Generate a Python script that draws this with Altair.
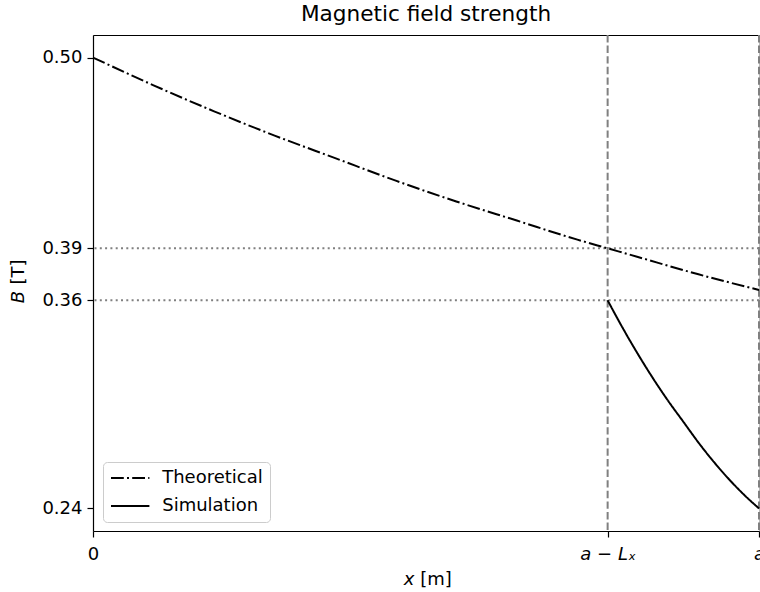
import altair as alt
import pandas as pd

# ---- data ----
theo_x = [0.00, 0.02, 0.04, 0.06, 0.08, 0.10, 0.12, 0.14, 0.16, 0.17, 0.18, 0.20, 0.22]
theo_B = [0.500, 0.484, 0.469, 0.455, 0.442, 0.429, 0.417, 0.406, 0.395, 0.390, 0.385, 0.375, 0.366]

sim_x = [0.170, 0.175, 0.180, 0.185, 0.190, 0.195, 0.200, 0.205, 0.210, 0.215, 0.220]
sim_B = [0.360, 0.344, 0.329, 0.315, 0.302, 0.290, 0.278, 0.267, 0.257, 0.248, 0.240]

hlines = [0.39, 0.36]
vlines = [0.17, 0.22]
y_ticks = [0.24, 0.36, 0.39, 0.50]
x_ticks = [0.0, 0.17, 0.22]
x_tick_labels = ["0", "a − Lₓ", "a"]
series_names = ["Theoretical", "Simulation"]
x_domain = [0.0, 0.22]
y_domain = [0.227, 0.513]

FONT = "DejaVu Sans"
GRAY = "#808080"

lines_df = pd.DataFrame({
    "x": theo_x + sim_x,
    "B": theo_B + sim_B,
    "series": [series_names[0]] * len(theo_x) + [series_names[1]] * len(sim_x),
})
h_df = pd.DataFrame({"y": hlines})
v_df = pd.DataFrame({"x": vlines})

# label expression built from the tick lists
expr = "''"
for v, lab in reversed(list(zip(x_ticks, x_tick_labels))):
    expr = f"(abs(datum.value - {v}) < 1e-9 ? '{lab}' : {expr})"

xscale = alt.Scale(domain=x_domain, nice=False, zero=False)
yscale = alt.Scale(domain=y_domain, nice=False, zero=False)

x_axis_bottom = alt.Axis(
    orient="bottom", values=x_ticks, labelExpr=expr, title=None, grid=False,
    labelFlush=False, labelPadding=8,
    labelFontStyle=alt.condition("datum.value == 0", alt.value("normal"), alt.value("italic")),
)
x_axis_top = alt.Axis(orient="top", labels=False, ticks=False, title=None, grid=False)
y_axis = alt.Axis(orient="left", values=y_ticks, format=".2f", title=None, grid=False,
                  labelFlush=False)

hrules = alt.Chart(h_df).mark_rule(color=GRAY, strokeDash=[2, 3.3], strokeWidth=2).encode(
    y=alt.Y("y:Q", scale=yscale, axis=y_axis)
)
vrules = alt.Chart(v_df).mark_rule(color=GRAY, strokeDash=[7.4, 3.2], strokeWidth=2).encode(
    x=alt.X("x:Q", scale=xscale, axis=x_axis_top)
)
lines = alt.Chart(lines_df).mark_line(color="black", strokeWidth=2, interpolate="monotone").encode(
    x=alt.X("x:Q", scale=xscale, axis=x_axis_bottom),
    y=alt.Y("B:Q", scale=yscale, axis=y_axis),
    strokeDash=alt.StrokeDash(
        "series:N",
        scale=alt.Scale(domain=series_names, range=[[12.8, 3.2, 2, 3.2], [1, 0]]),
        legend=alt.Legend(title=None, orient="none", legendX=10, legendY=427),
    ),
)

def txt(s, x, y, style="normal", angle=0):
    return alt.Chart(pd.DataFrame({"t": [s]})).mark_text(
        font=FONT, fontSize=18, fontStyle=style, color="black", align="center",
        baseline="middle", angle=angle,
    ).encode(text="t:N", x=alt.value(x), y=alt.value(y))

xt1 = txt("x", 316, 545, "italic")
xt2 = txt("[m]", 343, 545)
yt1 = txt("B", -74, 262, "italic", 270)
yt2 = txt("[T]", -74, 237, "normal", 270)

chart = alt.layer(hrules, vrules, lines, xt1, xt2, yt1, yt2).resolve_axis(
    x="independent"
).properties(
    width=666, height=496,
    autosize=alt.AutoSizeParams(type="none"),
    padding={"left": 93, "top": 35, "right": 1, "bottom": 61},
    title=alt.TitleParams("Magnetic field strength", font=FONT, fontSize=21.6,
                          fontWeight="normal", color="black", anchor="middle",
                          baseline="alphabetic", offset=-9),
).configure_view(
    stroke="#bbbbbb", strokeWidth=1
).configure_axis(
    labelFont=FONT, labelFontSize=18, labelColor="black",
    domainColor="black", domainWidth=1.2, tickColor="black", tickSize=6, tickWidth=1.2,
    labelPadding=5,
).configure_legend(
    labelFont=FONT, labelFontSize=18, labelColor="black",
    fillColor="rgba(255,255,255,0.8)", strokeColor="#cccccc", cornerRadius=4,
    padding=7, symbolType="M-2.4,0H2.4", symbolSize=256, symbolStrokeWidth=2,
    symbolStrokeColor="black", symbolOffset=11.2, labelOffset=23, rowPadding=10,
)

chart.save("out.html", embed_options={"renderer": "svg", "actions": False})
